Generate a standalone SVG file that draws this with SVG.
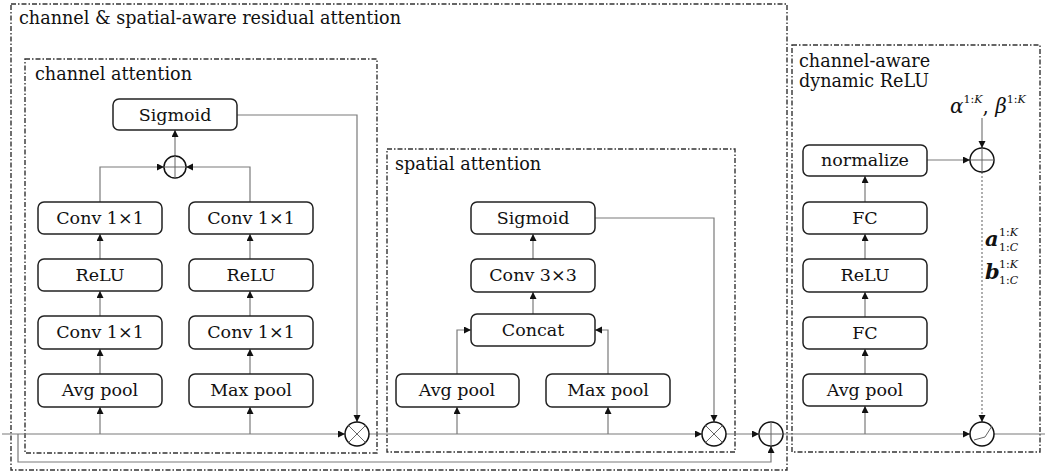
<svg xmlns="http://www.w3.org/2000/svg" width="1045" height="475" viewBox="0 0 1045 475">
<defs>
<marker id="arr" markerUnits="userSpaceOnUse" markerWidth="8" markerHeight="8" refX="7" refY="3.5" orient="auto">
<path d="M0,0 L7,3.5 L0,7 z" fill="#111"/>
</marker>
<style>
.frame{fill:none;stroke:#333;stroke-width:1.4;stroke-dasharray:5 2 1.5 2}
.box{fill:#fff;stroke:#222;stroke-width:1.5}
.lbl{font-family:"DejaVu Serif","Liberation Serif",serif;font-size:17.5px;fill:#111;text-anchor:middle}
.title{font-family:"DejaVu Serif","Liberation Serif",serif;font-size:17.6px;fill:#111}
.con{fill:none;stroke:#7a7a7a;stroke-width:1.2}
.arr{marker-end:url(#arr)}
.dot{stroke-dasharray:2 2}
.op{fill:#fff;stroke:#111;stroke-width:1.5}
.opl{fill:none;stroke:#666;stroke-width:1}
.math{font-family:"DejaVu Serif","Liberation Serif",serif;fill:#111}
</style>
</defs>

<g id="frames">
<rect class="frame" x="11" y="4" width="776" height="466"/>
<text class="title" x="19" y="24">channel &amp; spatial-aware residual attention</text>
<rect class="frame" x="25" y="59" width="352" height="394"/>
<text class="title" x="35" y="80">channel attention</text>
<rect class="frame" x="387" y="149" width="348" height="303"/>
<text class="title" x="395" y="170">spatial attention</text>
<rect class="frame" x="792" y="45" width="248" height="407"/>
<text class="title" x="799" y="67">channel-aware</text>
<text class="title" x="799" y="87">dynamic ReLU</text>
</g>

<g id="connectors">
<path class="con arr" d="M2,434 H345"/>
<path class="con arr" d="M100,434 V407"/>
<path class="con arr" d="M250,434 V407"/>
<path class="con arr" d="M100,374 V349"/>
<path class="con arr" d="M250,374 V349"/>
<path class="con arr" d="M100,316 V291"/>
<path class="con arr" d="M250,316 V291"/>
<path class="con arr" d="M100,259 V234"/>
<path class="con arr" d="M250,259 V234"/>
<path class="con arr" d="M100,202 V167 H164"/>
<path class="con arr" d="M250,202 V167 H186"/>
<path class="con arr" d="M175,156 V130"/>
<path class="con arr" d="M237,115 H357 V422"/>
<path class="con arr" d="M369,434 H702"/>
<path class="con arr" d="M457,434 V407"/>
<path class="con arr" d="M608,434 V407"/>
<path class="con arr" d="M457,374 V330 H471"/>
<path class="con arr" d="M608,374 V330 H595"/>
<path class="con arr" d="M533,314 V292"/>
<path class="con arr" d="M533,259 V234"/>
<path class="con arr" d="M595,218 H714 V422"/>
<path class="con arr" d="M726,434 H759"/>
<path class="con arr" d="M18,434 V462 H771 V446"/>
<path class="con arr" d="M783,434 H970"/>
<path class="con" d="M994,434 H1045"/>
<path class="con arr" d="M865,434 V406"/>
<path class="con arr" d="M865,374 V349"/>
<path class="con arr" d="M865,317 V292"/>
<path class="con arr" d="M865,259 V234"/>
<path class="con arr" d="M865,202 V176"/>
<path class="con arr" d="M927,160 H970"/>
<path class="con arr" d="M982,118 V148"/>
<path class="con arr dot" d="M982,172 V422"/>
</g>

<g id="ca-sigmoid"><rect class="box" x="113" y="99" width="124" height="31" rx="6"/><text class="lbl" x="175" y="121">Sigmoid</text></g>
<g id="ca-conv1a"><rect class="box" x="38" y="202" width="124" height="32" rx="6"/><text class="lbl" x="100" y="224">Conv 1×1</text></g>
<g id="ca-conv1b"><rect class="box" x="189" y="202" width="124" height="32" rx="6"/><text class="lbl" x="251" y="224">Conv 1×1</text></g>
<g id="ca-relua"><rect class="box" x="38" y="259" width="124" height="32" rx="6"/><text class="lbl" x="100" y="281">ReLU</text></g>
<g id="ca-relub"><rect class="box" x="189" y="259" width="124" height="32" rx="6"/><text class="lbl" x="251" y="281">ReLU</text></g>
<g id="ca-conv2a"><rect class="box" x="38" y="316" width="124" height="33" rx="6"/><text class="lbl" x="100" y="338">Conv 1×1</text></g>
<g id="ca-conv2b"><rect class="box" x="189" y="316" width="124" height="33" rx="6"/><text class="lbl" x="251" y="338">Conv 1×1</text></g>
<g id="ca-avg"><rect class="box" x="38" y="374" width="124" height="33" rx="6"/><text class="lbl" x="100" y="396">Avg pool</text></g>
<g id="ca-max"><rect class="box" x="189" y="374" width="124" height="33" rx="6"/><text class="lbl" x="251" y="396">Max pool</text></g>
<g id="ca-add"><circle class="op" cx="175" cy="167" r="11"/><path class="opl" d="M164,167 H186 M175,156 V178"/></g>
<g id="ca-mul"><circle class="op" cx="357" cy="434" r="12"/><path class="opl" d="M348.5,425.5 L365.5,442.5 M365.5,425.5 L348.5,442.5"/></g>

<g id="sa-sigmoid"><rect class="box" x="471" y="202" width="124" height="32" rx="6"/><text class="lbl" x="533" y="224">Sigmoid</text></g>
<g id="sa-conv3"><rect class="box" x="471" y="259" width="124" height="33" rx="6"/><text class="lbl" x="533" y="281">Conv 3×3</text></g>
<g id="sa-concat"><rect class="box" x="471" y="314" width="124" height="32" rx="6"/><text class="lbl" x="533" y="336">Concat</text></g>
<g id="sa-avg"><rect class="box" x="396" y="374" width="123" height="33" rx="6"/><text class="lbl" x="457" y="396">Avg pool</text></g>
<g id="sa-max"><rect class="box" x="546" y="374" width="124" height="33" rx="6"/><text class="lbl" x="608" y="396">Max pool</text></g>
<g id="sa-mul"><circle class="op" cx="714" cy="434" r="12"/><path class="opl" d="M705.5,425.5 L722.5,442.5 M722.5,425.5 L705.5,442.5"/></g>
<g id="res-add"><circle class="op" cx="771" cy="434" r="12"/><path class="opl" d="M759,434 H783 M771,422 V446"/></g>

<g id="dr-normalize"><rect class="box" x="803" y="145" width="124" height="31" rx="6"/><text class="lbl" x="865" y="166">normalize</text></g>
<g id="dr-fc2"><rect class="box" x="803" y="202" width="124" height="32" rx="6"/><text class="lbl" x="865" y="224">FC</text></g>
<g id="dr-relu"><rect class="box" x="803" y="259" width="124" height="33" rx="6"/><text class="lbl" x="865" y="281">ReLU</text></g>
<g id="dr-fc1"><rect class="box" x="803" y="317" width="124" height="32" rx="6"/><text class="lbl" x="865" y="339">FC</text></g>
<g id="dr-avg"><rect class="box" x="803" y="374" width="124" height="32" rx="6"/><text class="lbl" x="865" y="396">Avg pool</text></g>
<g id="dr-add"><circle class="op" cx="982" cy="160" r="12"/><path class="opl" d="M970,160 H994 M982,148 V172"/></g>
<g id="dr-act"><circle class="op" cx="982" cy="434" r="12"/><path class="opl" d="M974,440 L985,437 L992,426"/></g>

<g id="dr-params">
<text class="math" x="950" y="113" font-size="20"><tspan font-style="italic">α</tspan><tspan font-size="11" dy="-10">1:</tspan><tspan font-size="11" font-style="italic">K</tspan><tspan dy="10">, </tspan><tspan font-style="italic">β</tspan><tspan font-size="11" dy="-10">1:</tspan><tspan font-size="11" font-style="italic">K</tspan></text>
<text class="math" x="985" y="246" font-size="21" font-style="italic" font-weight="bold">a</text>
<text class="math" x="999" y="236" font-size="11">1:<tspan font-style="italic">K</tspan></text>
<text class="math" x="999" y="251" font-size="11">1:<tspan font-style="italic">C</tspan></text>
<text class="math" x="985" y="279" font-size="21" font-style="italic" font-weight="bold">b</text>
<text class="math" x="999" y="268" font-size="11">1:<tspan font-style="italic">K</tspan></text>
<text class="math" x="999" y="284" font-size="11">1:<tspan font-style="italic">C</tspan></text>
</g>
</svg>
